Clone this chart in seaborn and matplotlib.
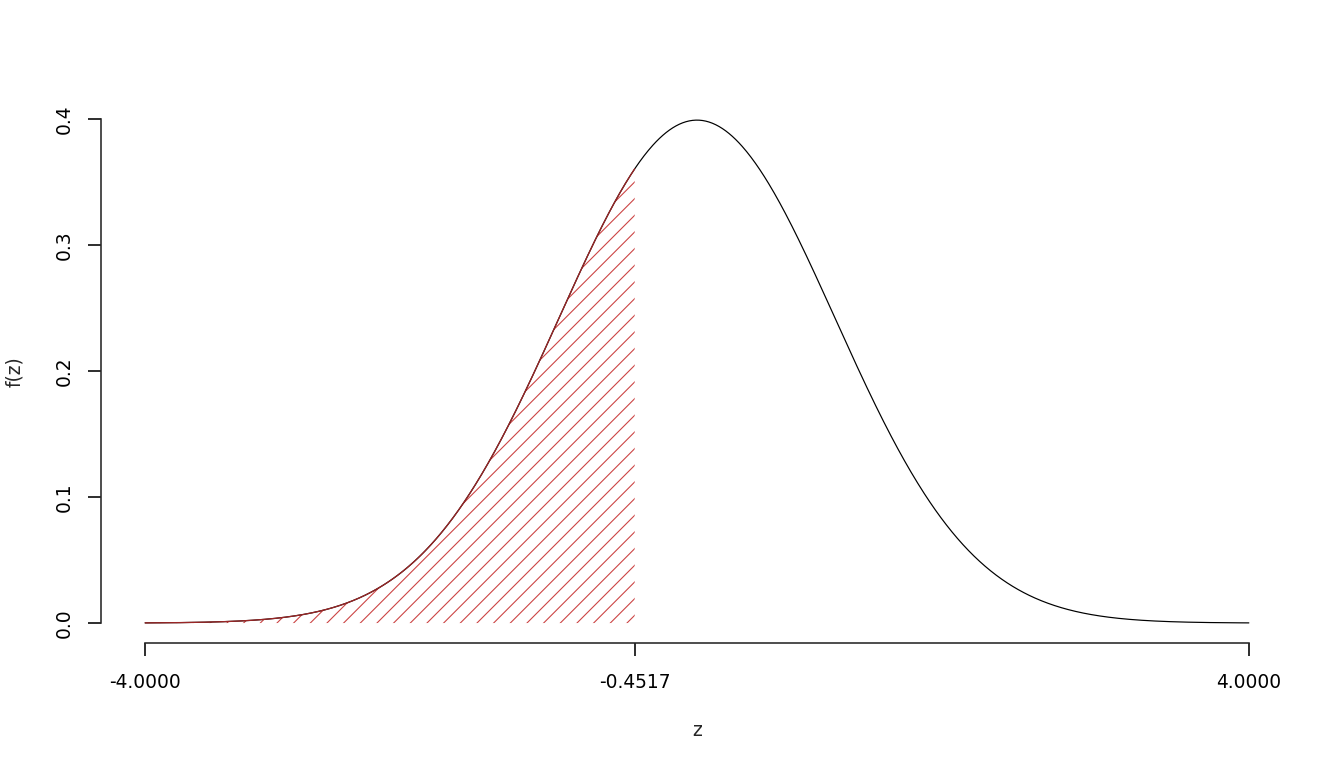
import matplotlib
matplotlib.use("Agg")
import matplotlib.pyplot as plt
import numpy as np
import pandas as pd
import seaborn as sns

# standard normal density, left tail up to the cut value shaded
Z_MIN, Z_MAX = -4.0, 4.0
Z_CUT = -0.4517
MU, SIGMA = 0.0, 1.0
X_TICKS = [-4.0, -0.4517, 4.0]
X_TICK_LABELS = ["-4.0000", "-0.4517", "4.0000"]
Y_TICKS = [0.0, 0.1, 0.2, 0.3, 0.4]
Y_TICK_LABELS = ["0.0", "0.1", "0.2", "0.3", "0.4"]

DPI = 100


def px(v):
    """pixels -> points at the output dpi"""
    return v * 72 / DPI


def dnorm(x):
    return np.exp(-0.5 * ((x - MU) / SIGMA) ** 2) / (SIGMA * np.sqrt(2 * np.pi))


z = np.linspace(Z_MIN, Z_MAX, 1001)
curve = pd.DataFrame({"z": z, "f(z)": dnorm(z)})
z_tail = np.linspace(Z_MIN, Z_CUT, 500)
tail = pd.DataFrame({"z": z_tail, "f(z)": dnorm(z_tail)})

sns.set_style("ticks")
plt.rcParams["font.family"] = ["DejaVu Sans"]
plt.rcParams["hatch.linewidth"] = px(1.1)

HATCH = "#cc4444"
FS = px(18.7)

fig = plt.figure(figsize=(1344 / DPI, 768 / DPI), dpi=DPI)
ax = fig.add_axes([101 / 1344, 1 - 643 / 768, 1192 / 1344, 543 / 768])

ax.fill_between(tail["z"], 0, tail["f(z)"], facecolor="none",
                edgecolor=HATCH, hatch="//", linewidth=0)
sns.lineplot(data=curve, x="z", y="f(z)", ax=ax, color="black", linewidth=px(1.2))
sns.lineplot(data=tail, x="z", y="f(z)", ax=ax, color="#9a2626", linewidth=px(1.3))

# R-style 4% axis extension
xr = Z_MAX - Z_MIN
ax.set_xlim(Z_MIN - 0.04 * xr, Z_MAX + 0.04 * xr)
ymin, ymax = curve["f(z)"].min(), curve["f(z)"].max()
yr = ymax - ymin
ax.set_ylim(ymin - 0.04 * yr, ymax + 0.04 * yr)

ax.set_xticks(X_TICKS, X_TICK_LABELS)
ax.set_yticks(Y_TICKS, Y_TICK_LABELS)
for lab in ax.get_yticklabels():
    lab.set_rotation(90)
    lab.set_va("center")

for side in ["top", "right"]:
    ax.spines[side].set_visible(False)
for side in ["left", "bottom"]:
    ax.spines[side].set_linewidth(px(1.6))
ax.spines["bottom"].set_bounds(Z_MIN, Z_MAX)
ax.spines["left"].set_bounds(0.0, 0.4)

ax.tick_params(axis="both", length=px(13.3), width=px(1.6), labelsize=FS, colors="black")
ax.tick_params(axis="x", pad=px(17.2))
ax.tick_params(axis="y", pad=px(14.4))

ax.set_xlabel("z", fontsize=FS, va="baseline")
ax.xaxis.set_label_coords(0.5, (643 - 736) / 543)
ax.set_ylabel("f(z)", fontsize=FS, va="center")
ax.yaxis.set_label_coords((15 - 101) / 1192, 0.5)

fig.savefig("out.png", dpi=DPI, facecolor="white")
